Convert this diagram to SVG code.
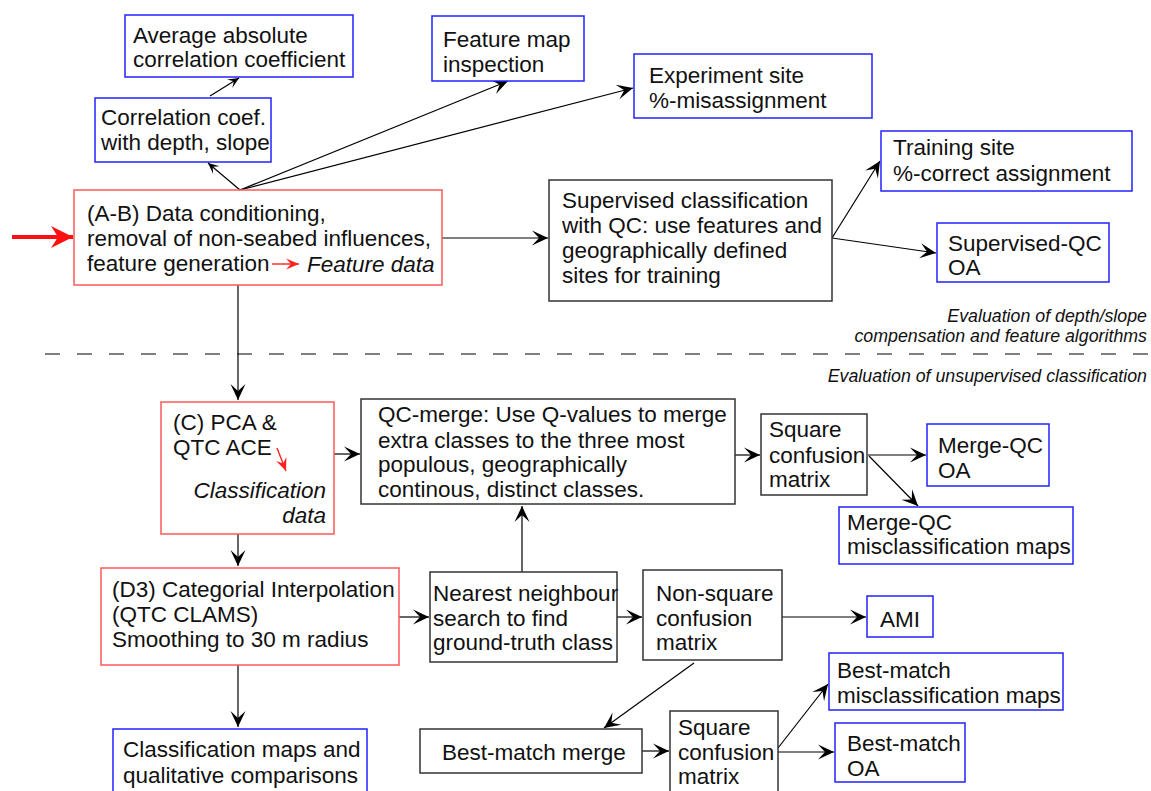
<svg xmlns="http://www.w3.org/2000/svg" width="1151" height="791" viewBox="0 0 1151 791">
  <style>
    text { font-family: "Liberation Sans", Arial, sans-serif; font-size: 22.5px; fill: #111; }
    .it { font-style: italic; }
    .note { font-style: italic; font-size: 17.8px; text-anchor: end; }
    .red { fill: #fff; stroke: #ff5a5a; stroke-width: 1.5; }
    .blue { fill: #fff; stroke: #2222ff; stroke-width: 1.5; }
    .black { fill: #fff; stroke: #333; stroke-width: 1.5; }
    .link { fill: none; stroke: #000; stroke-width: 1.2; marker-end: url(#head); }
    .slink { fill: none; stroke: #000; stroke-width: 1.2; marker-end: url(#shead); }
  </style>
  <defs>
    <marker id="head" markerUnits="userSpaceOnUse" markerWidth="18" markerHeight="18" refX="16" refY="8" orient="auto" overflow="visible">
      <path d="M0,0.5 L16,8 L0,15.5 L7,8 z" fill="#000"/>
    </marker>
    <marker id="shead" markerUnits="userSpaceOnUse" markerWidth="12" markerHeight="12" refX="11" refY="5.5" orient="auto" overflow="visible">
      <path d="M0,0.5 L11,5.5 L0,10.5 L5,5.5 z" fill="#000"/>
    </marker>
    <marker id="redhead" markerUnits="userSpaceOnUse" markerWidth="14" markerHeight="14" refX="13" refY="6" orient="auto" overflow="visible">
      <path d="M0,0.5 L13,6 L0,11.5 L5,6 z" fill="#ff2020"/>
    </marker>
    <marker id="bighead" markerUnits="userSpaceOnUse" markerWidth="26" markerHeight="26" refX="22" refY="11" orient="auto" overflow="visible">
      <path d="M0,0 L22,11 L0,22 L7,11 z" fill="#ff1010"/>
    </marker>
  </defs>

  <!-- section divider and captions -->
  <g id="divider">
    <line x1="45" y1="354" x2="1151" y2="354" stroke="#000" stroke-width="1.2" stroke-dasharray="15 17"/>
    <text class="note" x="1147" y="322">Evaluation of depth/slope</text>
    <text class="note" x="1147" y="342">compensation and feature algorithms</text>
    <text class="note" x="1147" y="382">Evaluation of unsupervised classification</text>
  </g>

  <!-- connectors -->
  <g id="connectors">
    <line x1="12" y1="237" x2="73" y2="237" stroke="#ff1010" stroke-width="4" marker-end="url(#bighead)"/>
    <line class="slink" x1="210" y1="96" x2="239" y2="78"/>
    <line class="slink" x1="240" y1="190" x2="208" y2="163"/>
    <line class="link" x1="240" y1="190" x2="508" y2="81"/>
    <line class="link" x1="240" y1="190" x2="633" y2="88"/>
    <line class="link" x1="442" y1="238" x2="548" y2="238"/>
    <line class="link" x1="832" y1="238" x2="880" y2="161"/>
    <line class="link" x1="832" y1="238" x2="936" y2="253"/>
    <line class="link" x1="238" y1="285" x2="238" y2="400"/>
    <line class="link" x1="334" y1="454" x2="360" y2="454"/>
    <line class="link" x1="238" y1="534" x2="238" y2="566"/>
    <line class="link" x1="238" y1="665" x2="238" y2="727"/>
    <line class="link" x1="399" y1="617" x2="429" y2="617"/>
    <line class="link" x1="522" y1="572" x2="522" y2="506"/>
    <line class="link" x1="617" y1="617" x2="642" y2="617"/>
    <line class="link" x1="735" y1="455" x2="760" y2="455"/>
    <line class="link" x1="868" y1="455" x2="926" y2="455"/>
    <line class="link" x1="869" y1="456" x2="918" y2="506"/>
    <line class="link" x1="782" y1="617" x2="866" y2="617"/>
    <line class="link" x1="694" y1="663" x2="604" y2="728"/>
    <line class="link" x1="642" y1="751" x2="669" y2="751"/>
    <line class="link" x1="778" y1="748" x2="828" y2="684"/>
    <line class="link" x1="778" y1="752" x2="834" y2="752"/>
  </g>

  <g id="avg-abs-corr">
    <rect class="blue" x="125" y="15" width="228" height="62"/>
    <text x="133" y="43">Average absolute</text>
    <text x="133" y="67">correlation coefficient</text>
  </g>

  <g id="corr-coef">
    <rect class="blue" x="95" y="98" width="176" height="64"/>
    <text x="101" y="125">Correlation coef.</text>
    <text x="101" y="150">with depth, slope</text>
  </g>

  <g id="data-conditioning">
    <rect class="red" x="74" y="190" width="368" height="95"/>
    <text x="87" y="221">(A-B) Data conditioning,</text>
    <text x="87" y="246">removal of non-seabed influences,</text>
    <text x="87" y="271">feature generation</text>
    <line x1="272" y1="264" x2="299" y2="264" stroke="#ff2020" stroke-width="1.4" marker-end="url(#redhead)"/>
    <text class="it" x="307" y="272">Feature data</text>
  </g>

  <g id="feature-map">
    <rect class="blue" x="432" y="16" width="152" height="65"/>
    <text x="443" y="47">Feature map</text>
    <text x="443" y="72">inspection</text>
  </g>

  <g id="experiment-site">
    <rect class="blue" x="634" y="54" width="238" height="64"/>
    <text x="649" y="83">Experiment site</text>
    <text x="649" y="108">%-misassignment</text>
  </g>

  <g id="supervised">
    <rect class="black" x="549" y="180" width="283" height="121"/>
    <text x="562" y="208">Supervised classification</text>
    <text x="562" y="233">with QC: use features and</text>
    <text x="562" y="258">geographically defined</text>
    <text x="562" y="283">sites for training</text>
  </g>

  <g id="training-site">
    <rect class="blue" x="881" y="131" width="251" height="60"/>
    <text x="893" y="155">Training site</text>
    <text x="893" y="181">%-correct assignment</text>
  </g>

  <g id="supervised-oa">
    <rect class="blue" x="937" y="223" width="172" height="59"/>
    <text x="948" y="251">Supervised-QC</text>
    <text x="948" y="275">OA</text>
  </g>

  <g id="pca">
    <rect class="red" x="161" y="402" width="173" height="132"/>
    <text x="173" y="430">(C) PCA &amp;</text>
    <text x="173" y="455">QTC ACE</text>
    <line x1="277" y1="448" x2="286" y2="471" stroke="#ff2020" stroke-width="1.4" marker-end="url(#redhead)"/>
    <text class="it" x="326" y="498" text-anchor="end">Classification</text>
    <text class="it" x="326" y="523" text-anchor="end">data</text>
  </g>

  <g id="qc-merge">
    <rect class="black" x="361" y="399" width="374" height="105"/>
    <text x="378" y="422">QC-merge: Use Q-values to merge</text>
    <text x="378" y="448">extra classes to the three most</text>
    <text x="378" y="472">populous, geographically</text>
    <text x="378" y="497">continous, distinct classes.</text>
  </g>

  <g id="square-top">
    <rect class="black" x="761" y="414" width="106" height="81"/>
    <text x="769" y="437">Square</text>
    <text x="769" y="463">confusion</text>
    <text x="769" y="487">matrix</text>
  </g>

  <g id="merge-oa">
    <rect class="blue" x="927" y="424" width="122" height="62"/>
    <text x="938" y="453">Merge-QC</text>
    <text x="938" y="478">OA</text>
  </g>

  <g id="merge-maps">
    <rect class="blue" x="839" y="507" width="234" height="57"/>
    <text x="847" y="530">Merge-QC</text>
    <text x="847" y="554">misclassification maps</text>
  </g>

  <g id="interpolation">
    <rect class="red" x="101" y="568" width="298" height="97"/>
    <text x="112" y="597">(D3) Categorial Interpolation</text>
    <text x="112" y="622">(QTC CLAMS)</text>
    <text x="112" y="647">Smoothing to 30 m radius</text>
  </g>

  <g id="nearest">
    <rect class="black" x="430" y="572" width="187" height="90"/>
    <text x="433" y="601">Nearest neighbour</text>
    <text x="433" y="626">search to find</text>
    <text x="433" y="650">ground-truth class</text>
  </g>

  <g id="non-square">
    <rect class="black" x="643" y="570" width="139" height="90"/>
    <text x="656" y="601">Non-square</text>
    <text x="656" y="626">confusion</text>
    <text x="656" y="650">matrix</text>
  </g>

  <g id="ami">
    <rect class="blue" x="867" y="596" width="66" height="41"/>
    <text x="880" y="627">AMI</text>
  </g>

  <g id="class-maps">
    <rect class="blue" x="113" y="729" width="254" height="70"/>
    <text x="123" y="757">Classification maps and</text>
    <text x="123" y="783">qualitative comparisons</text>
  </g>

  <g id="best-merge">
    <rect class="black" x="420" y="729" width="222" height="44"/>
    <text x="442" y="760">Best-match merge</text>
  </g>

  <g id="square-bottom">
    <rect class="black" x="670" y="711" width="108" height="90"/>
    <text x="678" y="735">Square</text>
    <text x="678" y="760">confusion</text>
    <text x="678" y="784">matrix</text>
  </g>

  <g id="best-maps">
    <rect class="blue" x="829" y="653" width="234" height="57"/>
    <text x="837" y="678">Best-match</text>
    <text x="837" y="703">misclassification maps</text>
  </g>

  <g id="best-oa">
    <rect class="blue" x="835" y="723" width="130" height="59"/>
    <text x="847" y="751">Best-match</text>
    <text x="847" y="776">OA</text>
  </g>
</svg>
